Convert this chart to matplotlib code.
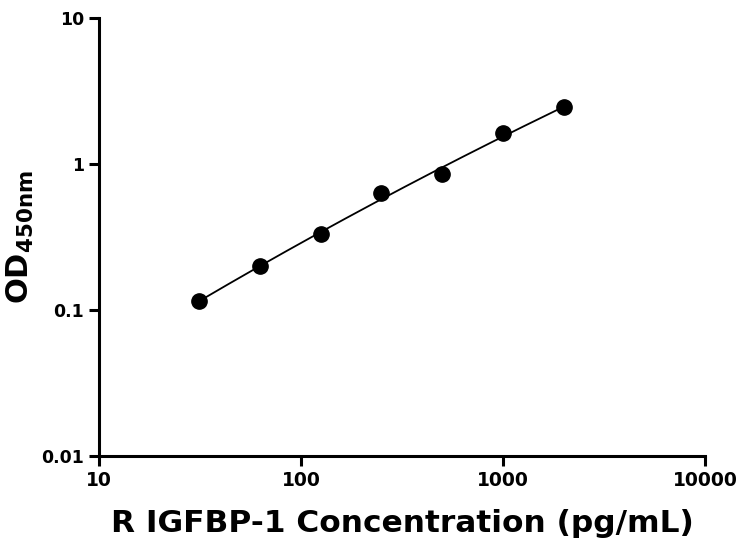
import numpy as np
import matplotlib
matplotlib.use("Agg")
import matplotlib.pyplot as plt
from matplotlib.ticker import FixedLocator, FixedFormatter, NullLocator

conc = [31.25, 62.5, 125, 250, 500, 1000, 2000]
od = [0.115, 0.20, 0.33, 0.63, 0.86, 1.63, 2.45]
xticks = [10, 100, 1000, 10000]
xlabels = ["10", "100", "1000", "10000"]
yticks = [0.01, 0.1, 1, 10]
ylabels = ["0.01", "0.1", "1", "10"]

fig = plt.figure(figsize=(7.43, 5.54), dpi=100)
ax = fig.add_axes([0.133, 0.177, 0.816, 0.79])
ax.set_xscale("log"); ax.set_yscale("log")
ax.set_xlim(10, 10000); ax.set_ylim(0.01, 10)

lx, ly = np.log10(conc), np.log10(od)
c = np.polyfit(lx, ly, 3)
xs = np.linspace(lx[0], lx[-1], 200)
ax.plot(10**xs, 10**np.polyval(c, xs), color="black", lw=1.3)
ax.plot(conc, od, "o", color="black", ms=11)

for s in ["top", "right"]:
    ax.spines[s].set_visible(False)
for s in ["left", "bottom"]:
    ax.spines[s].set_linewidth(2.2)
ax.xaxis.set_major_locator(FixedLocator(xticks))
ax.xaxis.set_major_formatter(FixedFormatter(xlabels))
ax.yaxis.set_major_locator(FixedLocator(yticks))
ax.yaxis.set_major_formatter(FixedFormatter(ylabels))
ax.xaxis.set_minor_locator(NullLocator()); ax.yaxis.set_minor_locator(NullLocator())
ax.tick_params(axis="x", width=2.2, length=7, labelsize=13.5)
ax.tick_params(axis="y", width=2.2, length=7, labelsize=12.5)
for t in ax.get_xticklabels() + ax.get_yticklabels():
    t.set_fontweight("bold")
ax.set_xlabel("R IGFBP-1 Concentration (pg/mL)", fontsize=22.5, fontweight="bold", labelpad=14)
ax.set_ylabel(r"$\mathbf{OD}_{\mathbf{450nm}}$", fontsize=22, labelpad=4)
fig.savefig("out.png", dpi=100)
